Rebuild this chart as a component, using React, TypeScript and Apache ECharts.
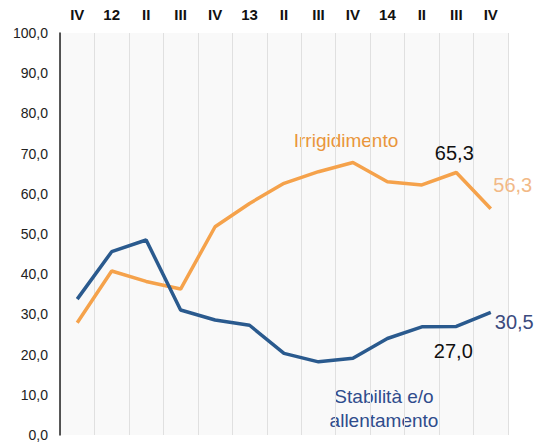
import React, { useEffect, useRef } from "react";
import * as echarts from "echarts";

const categories = ["IV", "12", "II", "III", "IV", "13", "II", "III", "IV", "14", "II", "III", "IV"];
const stabilita = [33.8, 45.6, 48.5, 31.1, 28.6, 27.3, 20.3, 18.2, 19.1, 24.0, 26.9, 27.0, 30.5];
const irrigidimento = [27.9, 40.8, 38.2, 36.3, 51.8, 57.6, 62.6, 65.5, 67.8, 63.0, 62.2, 65.3, 56.3];

const BLUE = "#2A5A8E";
const ORANGE = "#F5A24B";
const FONT = "Liberation Sans, Arial, sans-serif";

const fmt = (v: number) => v.toFixed(1).replace(".", ",");

export default function App() {
  const ref = useRef<HTMLDivElement>(null);
  useEffect(() => {
    if (!ref.current) return;
    const chart = echarts.init(ref.current, undefined, { renderer: "svg" });
    const n = categories.length;
    const lbl = (v: number, color: string, extra: any) => ({
      show: true,
      formatter: () => fmt(v),
      color,
      fontSize: 20,
      fontFamily: FONT,
      ...extra,
    });
    const blueData = stabilita.map((v, i) => {
      if (i === n - 1) return { value: v, label: lbl(v, "#3B4A7E", { position: "right", distance: 4, offset: [0, 10] }) };
      if (i === n - 2) return { value: v, label: lbl(v, "#111", { position: "bottom", distance: 15, offset: [-3, 0] }) };
      return v;
    });
    const orangeData = irrigidimento.map((v, i) => {
      if (i === n - 1) return { value: v, label: lbl(v, "#F2B987", { position: "top", distance: 14, offset: [22, 0] }) };
      if (i === n - 2) return { value: v, label: lbl(v, "#111", { position: "top", distance: 9, offset: [-2, 0] }) };
      return v;
    });
    chart.setOption({
      animation: false,
      textStyle: { fontFamily: FONT },
      grid: {
        left: 60,
        right: 29,
        top: 33,
        bottom: 11,
        show: true,
        backgroundColor: "#F9F9F9",
        borderWidth: 0,
      },
      xAxis: {
        type: "category",
        data: categories,
        position: "top",
        boundaryGap: true,
        axisLine: { show: false },
        axisTick: { show: false },
        axisLabel: { interval: 0, fontWeight: "bold", fontSize: 15, color: "#111", margin: 11, fontFamily: FONT },
        splitLine: { show: true, interval: 0, lineStyle: { color: "#E0E0E0", width: 1 } },
      },
      yAxis: {
        type: "value",
        min: 0,
        max: 100,
        interval: 10,
        axisLine: { show: true, lineStyle: { color: "#222", width: 1.5 } },
        axisTick: { show: false },
        splitLine: { show: false },
        axisLabel: { formatter: (v: number) => fmt(v), fontSize: 14, color: "#222", margin: 12, fontFamily: FONT },
      },
      series: [
        {
          name: "Irrigidimento",
          type: "line",
          data: orangeData,
          showSymbol: true,
          symbol: "circle",
          symbolSize: 0,
          lineStyle: { color: ORANGE, width: 3.5 },
          itemStyle: { color: ORANGE },
          z: 2,
        },
        {
          name: "Stabilità e/o allentamento",
          type: "line",
          data: blueData,
          showSymbol: true,
          symbol: "circle",
          symbolSize: 0,
          lineStyle: { color: BLUE, width: 3.5 },
          itemStyle: { color: BLUE },
          z: 3,
        },
      ],
      graphic: [
        {
          type: "text",
          x: 346,
          y: 140,
          style: { text: "Irrigidimento", fill: "#E9963C", fontSize: 19, fontFamily: FONT, textAlign: "center", textVerticalAlign: "middle" },
        },
        {
          type: "text",
          x: 384,
          y: 408,
          style: {
            text: "Stabilità e/o\nallentamento",
            fill: "#2F4C8C",
            fontSize: 19,
            lineHeight: 24,
            fontFamily: FONT,
            textAlign: "center",
            textVerticalAlign: "middle",
          },
        },
      ],
    });
    return () => chart.dispose();
  }, []);
  return <div ref={ref} style={{ width: 537, height: 446, position: "absolute", left: 0, top: 0 }} />;
}
